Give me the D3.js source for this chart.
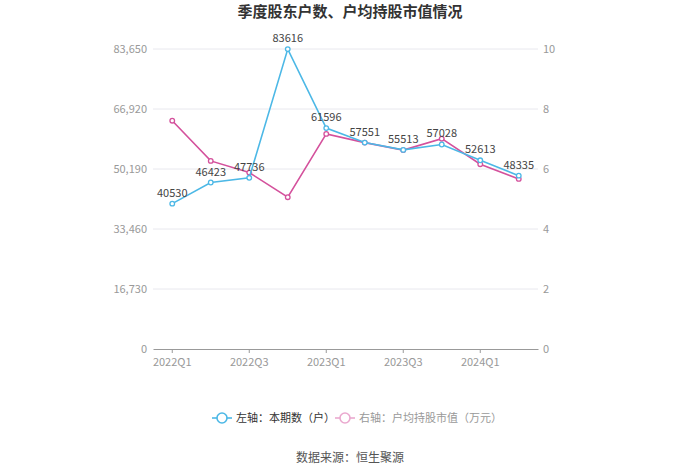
<!DOCTYPE html>
<html><head><meta charset="utf-8">
<script src="https://cdn.jsdelivr.net/npm/d3@7/dist/d3.min.js"></script>
<style>body{margin:0;background:#fff;font-family:"Noto Sans CJK SC","Noto Sans",sans-serif;}</style>
</head><body><svg id="c" width="700" height="473"></svg>
<script>
const categories = ["2022Q1","2022Q2","2022Q3","2022Q4","2023Q1","2023Q2","2023Q3","2023Q4","2024Q1","2024Q2"];
const holders = [40530,46423,47736,83616,61596,57551,55513,57028,52613,48335];
const avgValue = [7.61,6.27,5.88,5.06,7.17,6.88,6.63,7.01,6.16,5.67];
const leftTicks = [0,16730,33460,50190,66920,83650];
const rightTicks = [0,2,4,6,8,10];
const xTickLabels = ["2022Q1","2022Q3","2023Q1","2023Q3","2024Q1"];

const svg = d3.select("#c");
const m = {l:153, r:538, t:49, b:349};
const x = d3.scaleBand().domain(categories).range([m.l, m.r]);
const yL = d3.scaleLinear().domain([0,83650]).range([m.b, m.t]);
const yR = d3.scaleLinear().domain([0,10]).range([m.b, m.t]);
const cx = d => x(d) + x.bandwidth()/2;
const blue = "#4cb8e6", pink = "#d4519c";

svg.append("text").attr("x",350).attr("y",17).attr("text-anchor","middle")
  .attr("font-size",15).attr("font-weight","bold").attr("fill","#333").text("季度股东户数、户均持股市值情况");

// grid
svg.append("g").selectAll("line").data(leftTicks.slice(1)).join("line")
  .attr("x1",m.l).attr("x2",m.r).attr("y1",d=>yL(d)).attr("y2",d=>yL(d))
  .attr("stroke","#e8e8ee").attr("stroke-width",1);

// left axis labels
svg.append("g").selectAll("text").data(leftTicks).join("text")
  .attr("x",m.l-6).attr("y",d=>yL(d)+4).attr("text-anchor","end")
  .attr("font-size",11).attr("fill","#999").text(d=>d3.format(",")(d));
svg.append("g").selectAll("text").data(rightTicks).join("text")
  .attr("x",m.r+5).attr("y",d=>yR(d)+4).attr("text-anchor","start")
  .attr("font-size",11).attr("fill","#999").text(d=>d);

// x axis
const xa = svg.append("g").attr("transform",`translate(0,${m.b})`)
  .call(d3.axisBottom(x).tickValues(xTickLabels).tickSize(4).tickSizeOuter(0));
xa.select(".domain").attr("stroke","#999");
xa.selectAll(".tick line").attr("stroke","#999");
xa.selectAll(".tick text").attr("fill","#999").attr("font-size",11).attr("dy","0.9em")
  .attr("font-family","'Noto Sans CJK SC','Noto Sans',sans-serif");

// lines
function series(vals, y, color){
  const g = svg.append("g");
  g.append("path").datum(vals).attr("fill","none").attr("stroke",color).attr("stroke-width",1.6)
    .attr("d", d3.line().x((d,i)=>cx(categories[i])).y(d=>y(d)));
  g.selectAll("circle").data(vals).join("circle")
    .attr("cx",(d,i)=>cx(categories[i])).attr("cy",d=>y(d)).attr("r",2.3)
    .attr("fill","#fff").attr("stroke",color).attr("stroke-width",1.3);
}
series(avgValue, yR, pink);
series(holders, yL, blue);

svg.append("g").selectAll("text").data(holders).join("text")
  .attr("x",(d,i)=>cx(categories[i])).attr("y",d=>yL(d)-7).attr("text-anchor","middle")
  .attr("font-size",11).attr("fill","#444").text(d=>d);

// legend
const lg = svg.append("g");
lg.append("line").attr("x1",212).attr("x2",232).attr("y1",418).attr("y2",418).attr("stroke",blue).attr("stroke-width",1.6);
lg.append("circle").attr("cx",222).attr("cy",418).attr("r",5).attr("fill","#fff").attr("stroke",blue).attr("stroke-width",1.6);
lg.append("text").attr("x",236).attr("y",422).attr("font-size",11).attr("fill","#333").text("左轴：本期数（户）");
lg.append("line").attr("x1",335).attr("x2",355).attr("y1",418).attr("y2",418).attr("stroke","#eaa9cf").attr("stroke-width",1.6);
lg.append("circle").attr("cx",345).attr("cy",418).attr("r",5).attr("fill","#fff").attr("stroke","#eaa9cf").attr("stroke-width",1.6);
lg.append("text").attr("x",359).attr("y",422).attr("font-size",11).attr("fill","#999").text("右轴：户均持股市值（万元）");

svg.append("text").attr("x",350).attr("y",462).attr("text-anchor","middle")
  .attr("font-size",12).attr("fill","#555").text("数据来源：恒生聚源");
</script></body></html>
